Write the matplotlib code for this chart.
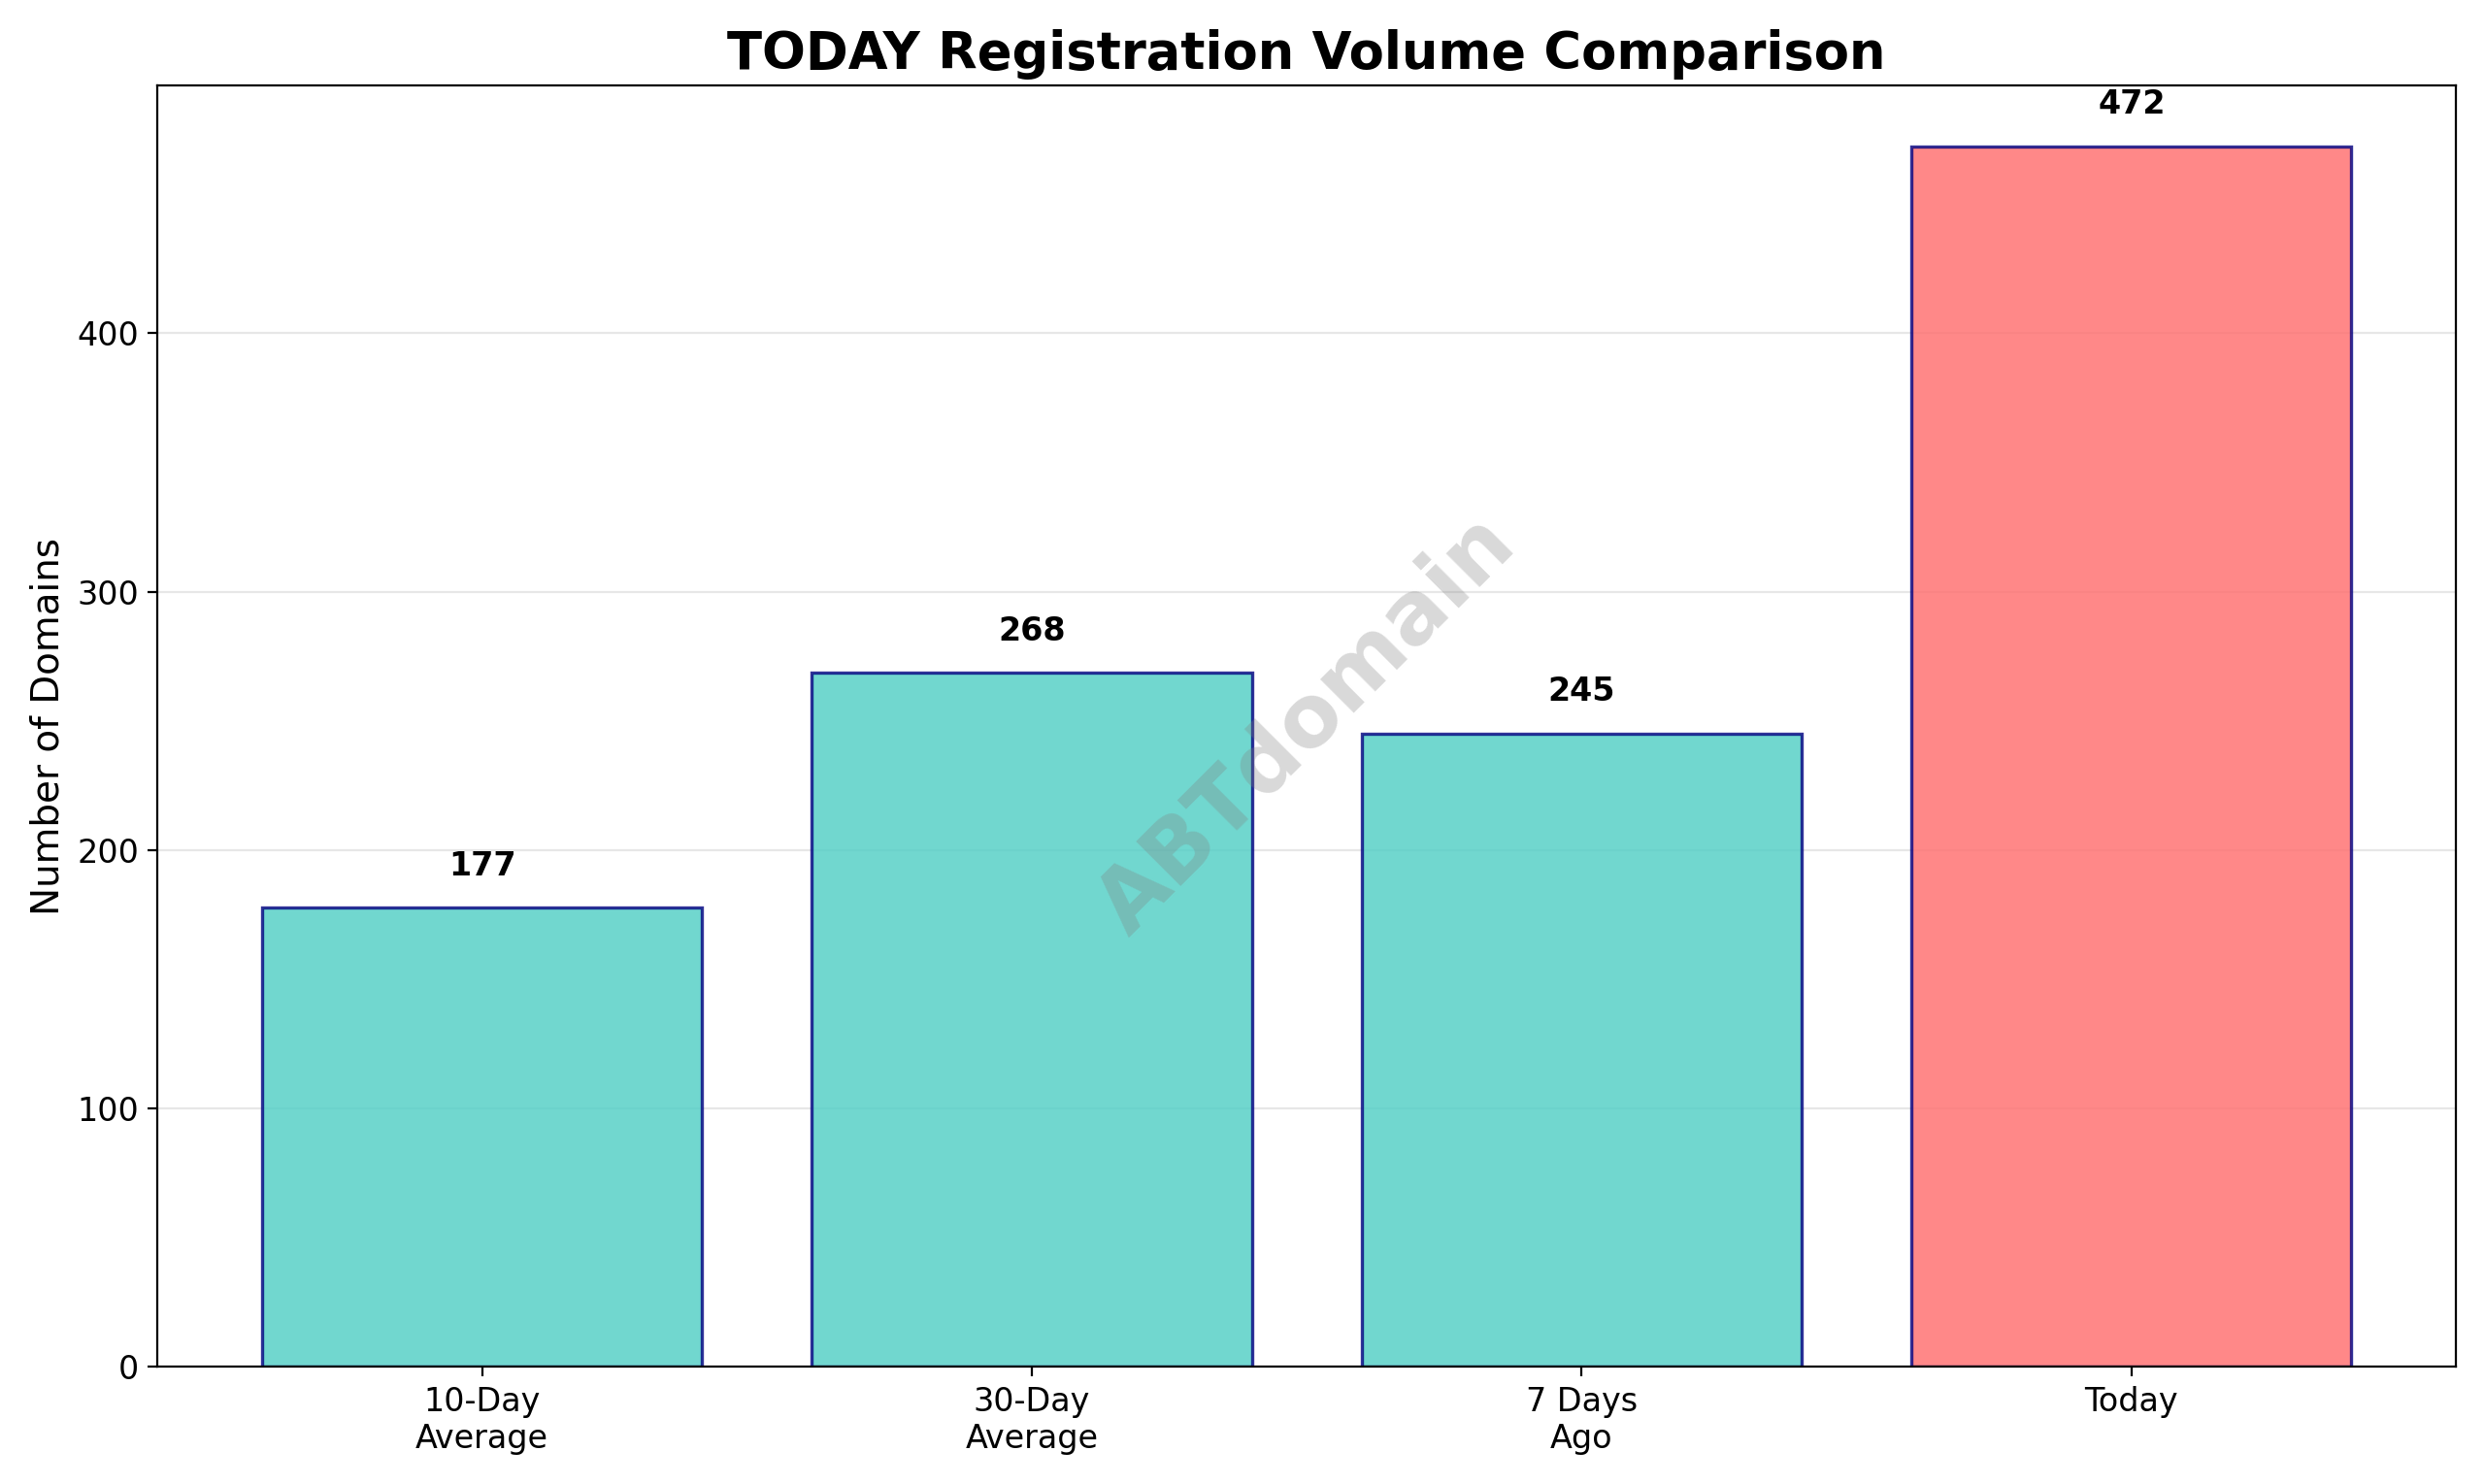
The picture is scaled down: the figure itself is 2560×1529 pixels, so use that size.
import matplotlib
matplotlib.use("Agg")
import matplotlib.pyplot as plt

categories = ["10-Day\nAverage", "30-Day\nAverage", "7 Days\nAgo", "Today"]
values = [177.6, 268.6, 245.0, 472.4]
labels = ["177", "268", "245", "472"]
colors = ["#4ECDC4", "#4ECDC4", "#4ECDC4", "#FF6B6B"]

fig, ax = plt.subplots(figsize=(12.8, 7.645), dpi=200)
bars = ax.bar(categories, values, color=colors, alpha=0.8, edgecolor="navy", linewidth=1.2)
for b, v, l in zip(bars, values, labels):
    ax.text(b.get_x() + b.get_width() / 2, v + 10, l, ha="center", va="bottom",
            fontweight="bold", fontsize=12)
ax.set_ylim(0, max(values) * 1.05)
ax.set_ylabel("Number of Domains", fontsize=14)
ax.set_title("TODAY Registration Volume Comparison", fontsize=19, fontweight="bold")
ax.grid(axis="y", alpha=0.3)
ax.set_axisbelow(True)
ax.tick_params(labelsize=12)
ax.text(0.5, 0.5, "ABTdomain", transform=ax.transAxes, fontsize=32, color="gray",
        alpha=0.3, rotation=45, ha="center", va="center", fontweight="bold")
fig.tight_layout()
fig.savefig("out.png", dpi=200)
